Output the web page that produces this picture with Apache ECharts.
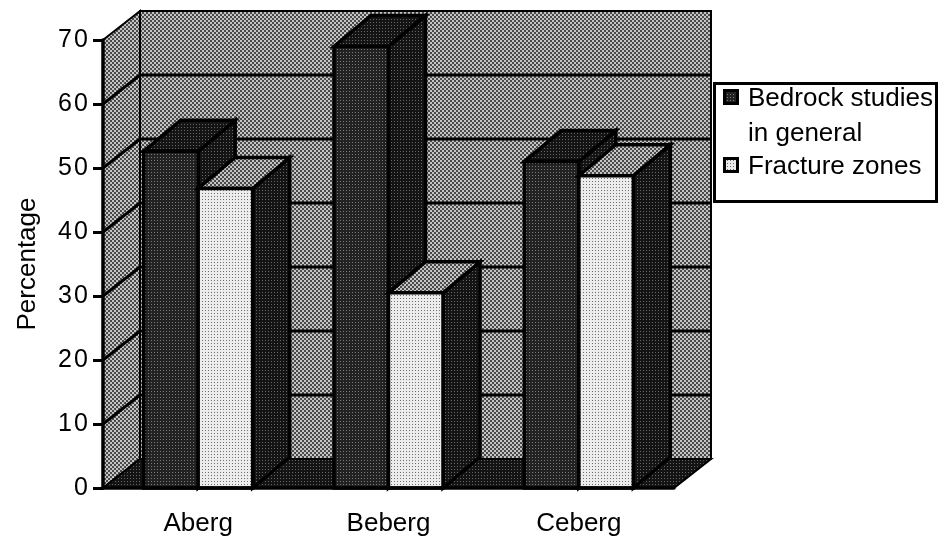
<!DOCTYPE html>
<html>
<head>
<meta charset="utf-8">
<style>html,body{margin:0;padding:0;background:#fff}#chart{width:943px;height:536px}</style>
<script src="https://cdn.jsdelivr.net/npm/echarts@6/dist/echarts.min.js"></script>
</head>
<body>
<div id="chart"></div>
<script>
var categories = ['Aberg', 'Beberg', 'Ceberg'];
var bedrockValues = [52.6, 69, 51];
var fractureValues = [46.8, 30.5, 48.8];
var yTicks = [0, 10, 20, 30, 40, 50, 60, 70];
var legendLines = ['Bedrock studies', 'in general', 'Fracture zones'];

var FONT = '"Liberation Sans", Arial, sans-serif';
var FONT_SIZE = 26;
var DX = 37, DY = 29;
var BAR_W = 54.5, BAR_DY = 31;

// small tiled canvas, stands in for the scanned halftone
function tile(size, colorAt) {
	var c = document.createElement('canvas');
	c.width = c.height = size;
	var ctx = c.getContext('2d');
	for (var y = 0; y < size; y++) {
		for (var x = 0; x < size; x++) {
			ctx.fillStyle = colorAt(x, y);
			ctx.fillRect(x, y, 1, 1);
		}
	}
	return { image: c, repeat: 'repeat' };
}
function checker(a, b) {
	return tile(4, function (x, y) {
		return ((x >> 1) + (y >> 1)) % 2 ? a : b;
	});
}
function dots(a, b) {
	return tile(3, function (x, y) {
		return x === 1 && y === 1 ? a : b;
	});
}
var wallFill = checker('#4a4a4a', '#c4c4c4');
var darkFill = dots('#7a7a7a', '#222222');
var sideFill = dots('#666666', '#141414');
var lightFill = dots('#707070', '#ececec');

function poly(points, fill, lw) {
	return {
		type: 'polygon',
		shape: { points: points },
		style: { fill: fill, stroke: '#000', lineWidth: lw, lineJoin: 'miter' }
	};
}

function renderWalls(params, api) {
	var g = params.coordSys;
	var l = g.x, r = g.x + g.width;
	var y0 = g.y + g.height, yT = g.y;
	var kids = [
		poly([[l, y0], [l + DX, y0 - DY], [l + DX, yT - DY], [l, yT]], wallFill, 2),
		poly([[l + DX, y0 - DY], [r + DX, y0 - DY], [r + DX, yT - DY], [l + DX, yT - DY]], wallFill, 2),
		poly([[l, y0], [r, y0], [r + DX, y0 - DY], [l + DX, y0 - DY]], sideFill, 2)
	];
	yTicks.forEach(function (t) {
		if (t === 0 || t === 70) return;
		var y = api.coord([0, t])[1];
		kids.push({
			type: 'polyline',
			shape: { points: [[l, y], [l + DX, y - DY], [r + DX, y - DY]] },
			style: { fill: 'none', stroke: '#000', lineWidth: 3 }
		});
	});
	return { type: 'group', children: kids };
}

function barRenderer(offset, frontFill, topFill) {
	return function (params, api) {
		var p = api.coord([api.value(0), api.value(1)]);
		var base = api.coord([api.value(0), 0])[1];
		var x0 = p[0] + offset, x1 = x0 + BAR_W, y = p[1];
		return {
			type: 'group',
			children: [
				poly([[x1, base], [x1 + DX, base - BAR_DY], [x1 + DX, y - BAR_DY], [x1, y]], sideFill, 3.5),
				poly([[x0, y], [x1, y], [x1 + DX, y - BAR_DY], [x0 + DX, y - BAR_DY]], topFill, 3.5),
				poly([[x0, base], [x1, base], [x1, y], [x0, y]], frontFill, 3.5)
			]
		};
	};
}

function legendText(text, y) {
	return {
		type: 'text',
		x: 748,
		y: y,
		style: { text: text, fill: '#000', fontSize: FONT_SIZE, fontFamily: FONT }
	};
}
function legendSwatch(y, fill) {
	return {
		type: 'rect',
		shape: { x: 724.5, y: y, width: 13, height: 13 },
		style: { fill: fill, stroke: '#000', lineWidth: 3 }
	};
}

var chart = echarts.init(document.getElementById('chart'), null, { renderer: 'canvas' });
chart.setOption({
	animation: false,
	backgroundColor: '#fff',
	textStyle: { fontFamily: FONT },
	grid: { left: 103, right: 269, top: 40, bottom: 48, outerBoundsMode: 'none' },
	xAxis: {
		type: 'category',
		data: categories,
		z: 5,
		axisLine: { lineStyle: { color: '#000', width: 3.5 } },
		axisTick: { length: 9, lineStyle: { color: '#000', width: 3 } },
		axisLabel: { color: '#000', fontSize: FONT_SIZE, fontFamily: FONT, margin: 23 }
	},
	yAxis: {
		type: 'value',
		min: 0,
		max: 70,
		interval: 10,
		z: 5,
		name: 'Percentage',
		nameLocation: 'middle',
		nameRotate: 90,
		nameGap: 62,
		nameTextStyle: { color: '#000', fontSize: FONT_SIZE, fontFamily: FONT },
		splitLine: { show: false },
		axisLine: { show: true, lineStyle: { color: '#000', width: 3.5 } },
		axisTick: { show: true, length: 10, lineStyle: { color: '#000', width: 3 } },
		axisLabel: {
			color: '#000',
			fontSize: FONT_SIZE - 1,
			fontFamily: FONT,
			margin: 15,
			formatter: function (v) { return String(v).split('').join('\u200a'); }
		}
	},
	graphic: [
		{
			type: 'group',
			z: 10,
			children: [
				{
					type: 'rect',
					shape: { x: 714.5, y: 83.5, width: 222, height: 118 },
					style: { fill: '#fff', stroke: '#000', lineWidth: 3 }
				},
				legendSwatch(90.5, darkFill),
				legendSwatch(158.5, lightFill),
				legendText(legendLines[0], 86),
				legendText(legendLines[1], 121),
				legendText(legendLines[2], 154)
			]
		}
	],
	series: [
		{
			type: 'custom',
			name: 'walls',
			z: 1,
			silent: true,
			data: [[0, 0]],
			renderItem: renderWalls
		},
		{
			type: 'custom',
			name: legendLines[0] + ' ' + legendLines[1],
			z: 2,
			encode: { x: 0, y: 1 },
			data: bedrockValues.map(function (v, i) { return [i, v]; }),
			renderItem: barRenderer(-BAR_W, darkFill, sideFill)
		},
		{
			type: 'custom',
			name: legendLines[2],
			z: 3,
			encode: { x: 0, y: 1 },
			data: fractureValues.map(function (v, i) { return [i, v]; }),
			renderItem: barRenderer(0, lightFill, wallFill)
		}
	]
});
</script>
</body>
</html>
